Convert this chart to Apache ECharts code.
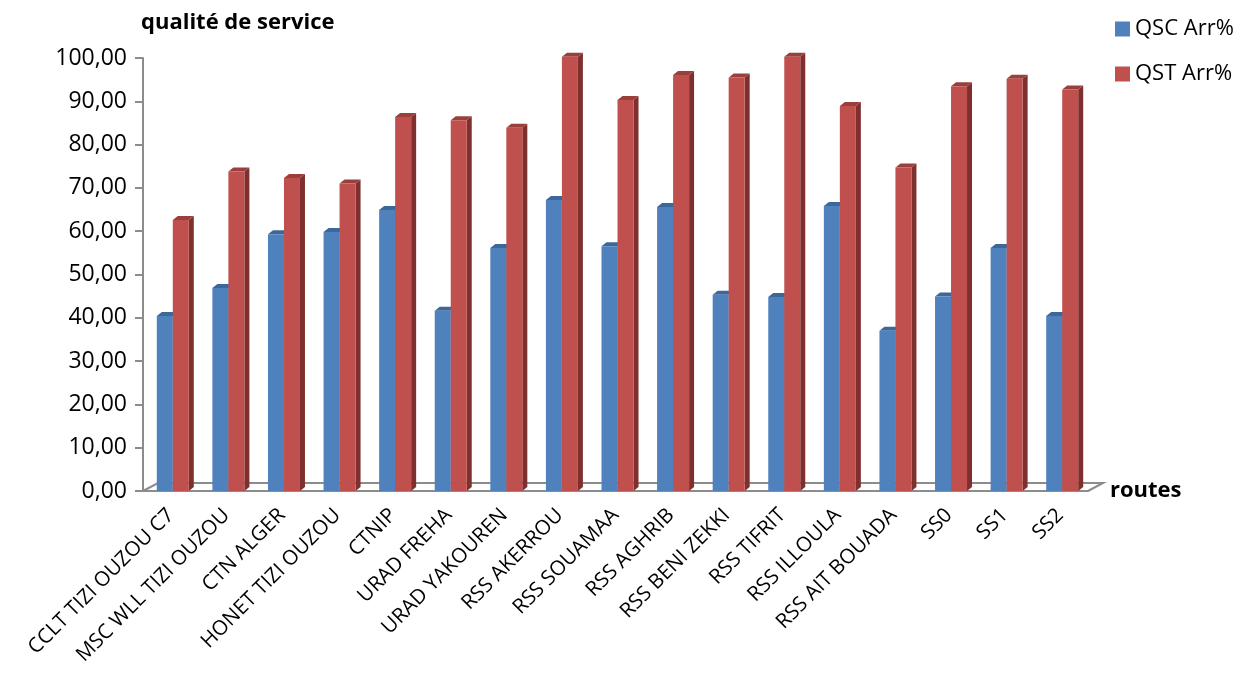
<!DOCTYPE html>
<html>
<head>
<meta charset="utf-8">
<script src="https://cdn.jsdelivr.net/npm/echarts@6/dist/echarts.min.js"></script>
<style>
html, body { margin: 0; padding: 0; background: #fff; }
#main { width: 1250px; height: 691px; }
</style>
</head>
<body>
<div id="main"></div>
<script>
var categories = ['CCLT TIZI OUZOU C7', 'MSC WLL TIZI OUZOU', 'CTN ALGER', 'HONET TIZI OUZOU',
	'CTNIP', 'URAD FREHA', 'URAD YAKOUREN', 'RSS AKERROU', 'RSS SOUAMAA', 'RSS AGHRIB',
	'RSS BENI ZEKKI', 'RSS TIFRIT', 'RSS ILLOULA', 'RSS AIT BOUADA', 'SS0', 'SS1', 'SS2'];
var qscValues = [40.4, 46.9, 59.3, 59.8, 64.9, 41.6, 56.1, 67.2, 56.5, 65.6, 45.3, 44.8, 65.8, 37.0, 44.9, 56.1, 40.4];
var qstValues = [62.6, 73.8, 72.3, 71.0, 86.4, 85.6, 83.9, 100.3, 90.3, 96.1, 95.5, 100.3, 88.9, 74.7, 93.5, 95.2, 92.7];
var yTicks = [0, 10, 20, 30, 40, 50, 60, 70, 80, 90, 100];

var chartDom = document.getElementById('main');
var myChart = echarts.init(chartDom);

function toPairs(arr) {
	var out = [];
	for (var i = 0; i < arr.length; i++) {
		out.push([i, arr[i]]);
	}
	return out;
}

// barre 3D : face avant, cote et dessus
function barRender(offset, front, side, topc) {
	return function(params, api) {
		var idx = api.value(0);
		var top = api.coord([idx, api.value(1)]);
		var base = api.coord([idx, 0]);
		var w = 16, d = 5, h = 4;
		var x0 = top[0] + offset;
		return {
			type : 'group',
			children : [{
						type : 'polygon',
						shape : {
							points : [[x0 + w, top[1]], [x0 + w + d, top[1] - h],
									[x0 + w + d, base[1] - h], [x0 + w, base[1]]]
						},
						style : { fill : side }
					}, {
						type : 'polygon',
						shape : {
							points : [[x0, top[1]], [x0 + d, top[1] - h],
									[x0 + w + d, top[1] - h], [x0 + w, top[1]]]
						},
						style : { fill : topc }
					}, {
						type : 'rect',
						shape : { x : x0, y : top[1], width : w, height : base[1] - top[1] },
						style : { fill : front }
					}]
		};
	};
}

var option = {
	animation : false,
	backgroundColor : '#fff',
	title : {
		text : 'qualité de service',
		left : 136,
		top : 7,
		textStyle : { fontFamily : 'Open Sans', fontSize : 22, fontWeight : 'bold', color : '#000' }
	},
	legend : {
		orient : 'vertical',
		left : 1110,
		top : 13,
		itemWidth : 15,
		itemHeight : 15,
		itemGap : 23,
		icon : 'rect',
		data : ['QSC Arr%', 'QST Arr%'],
		textStyle : { fontFamily : 'Open Sans', fontSize : 22, color : '#000' }
	},
	grid : { left : 143, right : 162, top : 58, bottom : 200 },
	xAxis : {
		type : 'category',
		data : categories,
		name : 'routes',
		nameLocation : 'end',
		nameGap : 22,
		nameTextStyle : { fontFamily : 'Open Sans', fontSize : 22, fontWeight : 'bold', color : '#000' },
		axisLine : { lineStyle : { color : '#8c8c8c', width : 2 } },
		axisTick : { length : 7, lineStyle : { color : '#8c8c8c', width : 2 } },
		axisLabel : {
			rotate : 45,
			margin : 21,
			fontFamily : 'Open Sans',
			fontSize : 20.5,
			color : '#000',
			interval : 0
		}
	},
	yAxis : {
		type : 'value',
		min : yTicks[0],
		max : yTicks[yTicks.length - 1],
		interval : 10,
		axisLine : { show : true, lineStyle : { color : '#8c8c8c', width : 2 } },
		axisTick : { show : true, length : 8, lineStyle : { color : '#8c8c8c', width : 2 } },
		splitLine : { show : false },
		axisLabel : {
			margin : 16,
			fontFamily : 'Open Sans',
			fontSize : 23,
			color : '#000',
			formatter : function(v) {
				return v.toFixed(2).replace('.', ',');
			}
		}
	},
	series : [{
				name : 'floor',
				type : 'custom',
				silent : true,
				z : 1,
				data : [[0, 0]],
				renderItem : function(params, api) {
					var cs = params.coordSys;
					var b = cs.y + cs.height;
					return {
						type : 'polyline',
						shape : {
							points : [[cs.x, b], [cs.x + 15, b - 8], [cs.x + cs.width + 15, b - 8],
									[cs.x + cs.width, b]]
						},
						style : { stroke : '#8c8c8c', lineWidth : 2, fill : null }
					};
				}
			}, {
				name : 'QSC Arr%',
				type : 'custom',
				z : 3,
				itemStyle : { color : '#4f81bd' },
				encode : { x : 0, y : 1 },
				data : toPairs(qscValues),
				renderItem : barRender(-14, '#4f81bd', '#3a6392', '#3c679b')
			}, {
				name : 'QST Arr%',
				type : 'custom',
				z : 4,
				itemStyle : { color : '#c0504d' },
				encode : { x : 0, y : 1 },
				data : toPairs(qstValues),
				renderItem : barRender(2, '#c0504d', '#7f2f2d', '#99403d')
			}]
};

option && myChart.setOption(option);
</script>
</body>
</html>
